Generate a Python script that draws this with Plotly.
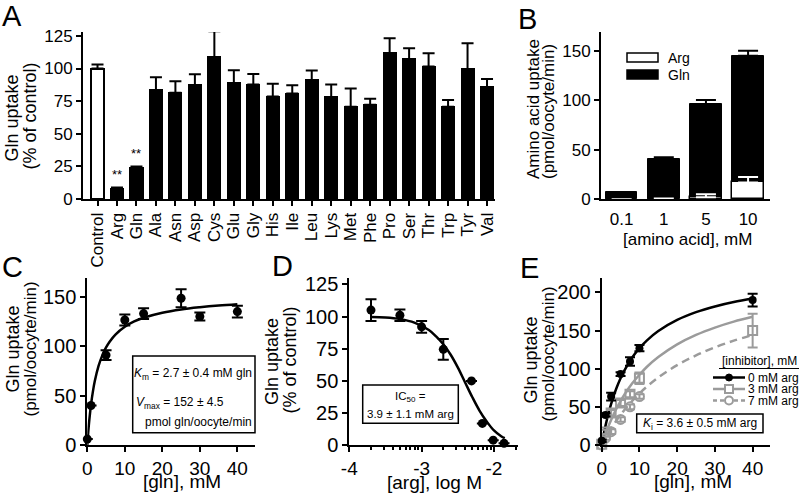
import numpy as np
import plotly.graph_objects as go

W, H = 802, 495
FONT = "Liberation Sans, Arial, Helvetica, sans-serif"
GRAY = "#9b9b9b"


def px(x):
    return x / W


def py(y):
    return 1 - y / H


# ---------------- Panel A data ----------------
a_labels = ["Control", "Arg", "Gln", "Ala", "Asn", "Asp", "Cys", "Glu", "Gly", "His", "Ile",
            "Leu", "Lys", "Met", "Phe", "Pro", "Ser", "Thr", "Trp", "Tyr", "Val"]
a_values = [100, 8, 24, 83.5, 81.5, 87, 108.5, 88.7, 87.7, 78.5, 80.8,
            91.3, 78.2, 70.8, 72.3, 111.7, 107, 101.5, 70.8, 99.7, 85.6]
a_err = [3, 0.8, 1, 9.8, 8.7, 8.6, 20, 10, 8.2, 9.9, 6.4,
         7.1, 9.5, 13.8, 4.6, 11.5, 8.5, 10.2, 5.1, 19.7, 6.4]
a_sig = ["", "**", "**", "", "", "", "", "", "", "", "",
         "", "", "", "", "", "", "", "", "", ""]
a_yticks = [0, 25, 50, 75, 100, 125]

# ---------------- Panel B data ----------------
b_conc = ["0.1", "1", "5", "10"]
b_gln = [7, 40.4, 96, 145]
b_gln_err = [0.5, 2, 4.3, 5]
b_arg = [0, 0.6, 2, 17]
b_arg_err = [0, 0.3, 3, 5.5]
b_yticks = [0, 50, 100, 150]

# ---------------- Panel C data ----------------
c_x = [0, 1, 5, 10, 15, 25, 30, 40]
c_y = [6, 40, 91, 126.5, 133, 148.5, 130, 135]
c_err = [0, 0, 5, 5.5, 5.5, 9, 4, 6]
c_fit_x = [0, 0.25, 0.5, 1, 1.5, 2, 3, 4, 5, 6, 7.5, 10, 12.5, 15, 20, 25, 30, 35, 40]
c_fit_y = [0, 12.9, 23.8, 41.1, 54.3, 64.7, 80.0, 90.7, 98.7, 104.8, 111.8, 119.7, 125.0,
           128.8, 133.9, 137.2, 139.4, 141.1, 142.4]
c_xticks = [0, 10, 20, 30, 40]
c_yticks = [0, 50, 100, 150]

# ---------------- Panel D data ----------------
d_x = [-3.70, -3.30, -3.00, -2.70, -2.31, -2.16, -2.01, -1.86]
d_y = [105, 101, 92, 74.5, 50, 17, 4, 1.5]
d_err = [8.5, 4.5, 4.5, 8, 0, 0, 0, 0]
d_fit_x = [-3.7, -3.5, -3.3, -3.1, -2.9, -2.8, -2.7, -2.6, -2.5, -2.4, -2.3, -2.2,
           -2.1, -2.0, -1.9, -1.85]
d_fit_y = [99.6, 99.2, 98.0, 95.3, 89.5, 84.6, 78.5, 70.5, 60.5, 49.0, 37.5, 27.0,
           18.5, 11.5, 7.0, 5.5]
d_xticks = [-4, -3, -2]
d_xticktext = ["-4", "-3", "-2"]
d_yticks = [0, 25, 50, 75, 100, 125]

# ---------------- Panel E data ----------------
e_x = [0, 1, 2.5, 5, 7.5, 10, 40]
e0_y = [5.5, 39.5, 63.5, 93, 109.5, 127, 190]
e0_err = [1.5, 2, 5, 2.5, 5.5, 4, 8.5]
e3_y = [1, 17, 42, 55, 66.5, 87.5, 150]
e3_err = [1, 3, 4, 4, 4, 7.5, 22]
e7_x = [0, 1, 2.5, 5, 7.5, 10]
e7_y = [0, 9, 17.5, 33.5, 50, 63.5]
e7_err = [1, 2, 3, 3, 3, 3]
e_fit_x = [0, 1, 2, 3, 4, 5, 6, 8, 10, 12, 15, 20, 25, 30, 35, 40]
e0_fit = [0, 25.1, 45.2, 61.8, 75.7, 87.5, 97.6, 114.1, 127.0, 137.3, 149.5, 164.0,
          174.2, 181.7, 187.5, 192.0]
e3_fit = [0, 14.4, 27.1, 38.4, 48.5, 57.6, 65.9, 80.2, 92.1, 102.6, 115.4, 132.0,
          144.4, 154.0, 161.8, 168.1]
e7_fit = [0, 9.2, 17.6, 25.5, 32.8, 39.6, 45.9, 57.4, 67.6, 76.6, 88.5, 104.7,
          117.5, 128.1, 136.8, 144.2]
e_xticks = [0, 10, 20, 30, 40]
e_yticks = [0, 50, 100, 150, 200]
e_legend = ["0 mM arg", "3 mM arg", "7 mM arg"]

fig = go.Figure()

# ---- A bars
fig.add_trace(go.Bar(
    x=a_labels, y=a_values, width=0.62,
    marker=dict(color=["white"] + ["black"] * (len(a_labels) - 1),
                line=dict(color="black", width=2)),
    error_y=dict(type="data", symmetric=False, array=a_err, arrayminus=[0] * len(a_err),
                 color="black", thickness=2, width=6),
    xaxis="x", yaxis="y"))

# ---- B bars
fig.add_trace(go.Bar(
    x=b_conc, y=b_gln, width=0.75,
    marker=dict(color="black", line=dict(color="black", width=1)),
    error_y=dict(type="data", symmetric=False, array=b_gln_err, arrayminus=[0] * 4,
                 color="black", thickness=2, width=10),
    xaxis="x2", yaxis="y2"))
fig.add_trace(go.Bar(
    x=b_conc, y=b_arg, width=0.75,
    marker=dict(color="white", line=dict(color="black", width=1.5)),
    error_y=dict(type="data", symmetric=False, array=b_arg_err, arrayminus=[0] * 4,
                 color="white", thickness=2, width=10),
    xaxis="x2", yaxis="y2"))

# ---- C
fig.add_trace(go.Scatter(x=c_fit_x, y=c_fit_y, mode="lines", line=dict(color="black", width=2.5, shape="spline"),
                         xaxis="x3", yaxis="y3", cliponaxis=False))
fig.add_trace(go.Scatter(x=c_x, y=c_y, mode="markers", marker=dict(color="black", size=9),
                         error_y=dict(type="data", array=c_err, color="black", thickness=2, width=5.5),
                         xaxis="x3", yaxis="y3", cliponaxis=False))

# ---- D
fig.add_trace(go.Scatter(x=d_fit_x, y=d_fit_y, mode="lines", line=dict(color="black", width=2.5, shape="spline"),
                         xaxis="x4", yaxis="y4", cliponaxis=False))
fig.add_trace(go.Scatter(x=d_x, y=d_y, mode="markers", marker=dict(color="black", size=9),
                         error_y=dict(type="data", array=d_err, color="black", thickness=2, width=5.5),
                         xaxis="x4", yaxis="y4", cliponaxis=False))

# ---- E
fig.add_trace(go.Scatter(x=e_fit_x, y=e7_fit, mode="lines",
                         line=dict(color=GRAY, width=2.5, dash="8px,5px", shape="spline"),
                         xaxis="x5", yaxis="y5", cliponaxis=False))
fig.add_trace(go.Scatter(x=e_fit_x, y=e3_fit, mode="lines", line=dict(color=GRAY, width=2.5, shape="spline"),
                         xaxis="x5", yaxis="y5", cliponaxis=False))
fig.add_trace(go.Scatter(x=e_fit_x, y=e0_fit, mode="lines", line=dict(color="black", width=2.5, shape="spline"),
                         xaxis="x5", yaxis="y5", cliponaxis=False))
fig.add_trace(go.Scatter(x=e7_x, y=e7_y, mode="markers",
                         marker=dict(symbol="circle-open", color=GRAY, size=9, line=dict(width=2)),
                         error_y=dict(type="data", array=e7_err, color=GRAY, thickness=2, width=5),
                         xaxis="x5", yaxis="y5", cliponaxis=False))
fig.add_trace(go.Scatter(x=e_x, y=e3_y, mode="markers",
                         marker=dict(symbol="square-open", color=GRAY, size=9, line=dict(width=2)),
                         error_y=dict(type="data", array=e3_err, color=GRAY, thickness=2, width=5),
                         xaxis="x5", yaxis="y5", cliponaxis=False))
fig.add_trace(go.Scatter(x=e_x, y=e0_y, mode="markers", marker=dict(color="black", size=8),
                         error_y=dict(type="data", array=e0_err, color="black", thickness=2, width=5),
                         xaxis="x5", yaxis="y5", cliponaxis=False))


def axstyle(size=17, **kw):
    d = dict(showline=True, linecolor="black", linewidth=2, ticks="outside", ticklen=5,
             tickwidth=2, tickcolor="black", showgrid=False, zeroline=False, automargin=False,
             tickfont=dict(family=FONT, size=size, color="black"), fixedrange=True)
    d.update(kw)
    return d


minor_d = [float(np.log10(k * 10.0 ** e)) for e in (-4, -3, -2) for k in range(2, 10)]
minor_d = [v for v in minor_d if v < -1.67]

fig.update_layout(
    width=W, height=H, margin=dict(l=0, r=0, t=0, b=0),
    paper_bgcolor="white", plot_bgcolor="white", showlegend=False,
    barmode="overlay", bargap=0,
    font=dict(family=FONT, color="black"),
    xaxis=axstyle(17, domain=[px(83), px(495)], anchor="y", type="category",
                  range=[-0.745, 20.41], tickangle=-90, tickmode="array", tickvals=a_labels,
                  ticktext=a_labels),
    yaxis=axstyle(17, domain=[py(199), py(32)], anchor="x", range=[0, 128], tickvals=a_yticks),
    xaxis2=axstyle(17, domain=[px(601), px(770)], anchor="y2", type="category",
                   range=[-0.49, 3.52], tickcolor="rgba(0,0,0,0)", ticklen=3),
    yaxis2=axstyle(17, domain=[py(199.3), py(32)], anchor="x2", range=[0, 169], tickvals=b_yticks),
    xaxis3=axstyle(19, domain=[px(87.3), px(255)], anchor="y3", range=[0, 44.7], tickvals=c_xticks),
    yaxis3=axstyle(20, domain=[py(445), py(278)], anchor="x3", range=[0, 169], tickvals=c_yticks),
    xaxis4=axstyle(19, domain=[px(349.3), px(518)], anchor="y4", range=[-4, -1.667],
                   tickvals=d_xticks, ticktext=d_xticktext,
                   minor=dict(tickvals=minor_d, ticks="outside", ticklen=3, tickwidth=1.5,
                              tickcolor="black", showgrid=False)),
    yaxis4=axstyle(20, domain=[py(445.3), py(278.3)], anchor="x4", range=[0, 129.7], tickvals=d_yticks),
    xaxis5=axstyle(19, domain=[px(601.7), px(770)], anchor="y5", range=[0, 44.6], tickvals=e_xticks),
    yaxis5=axstyle(20, domain=[py(445), py(278)], anchor="x5", range=[0, 219], tickvals=e_yticks),
)

annotations = []
shapes = []


def txt(x, y, s, size, xanchor="center", yanchor="middle", angle=0, family=FONT):
    annotations.append(dict(x=px(x), y=py(y), xref="paper", yref="paper", text=s, showarrow=False,
                            xanchor=xanchor, yanchor=yanchor, textangle=angle, borderpad=0,
                            font=dict(family=family, size=size, color="black")))


# panel letters
for letter, lx, ly in [("A", 1, 16), ("B", 517, 19), ("C", 1, 267), ("D", 271, 266), ("E", 519, 268)]:
    txt(lx, ly, letter, 29, xanchor="left")

# significance marks in A
for lab, v, s in zip(a_labels, a_values, a_sig):
    if s:
        annotations.append(dict(x=lab, y=v + 11, xref="x", yref="y", text=s, showarrow=False,
                                font=dict(family=FONT, size=13, color="black")))

# axis titles
txt(11.5, 118, "Gln uptake", 18, angle=-90)
txt(29.5, 116, "(% of control)", 18, angle=-90)
txt(534, 109, "Amino acid uptake", 17, angle=-90)
txt(548, 112, "(pmol/oocyte/min)", 17, angle=-90)
txt(687, 239, "[amino acid], mM", 17)
txt(12.5, 349, "Gln uptake", 18, angle=-90)
txt(29.5, 349, "(pmol/oocyte/min)", 17, angle=-90)
txt(182, 481, "[gln], mM", 19)
txt(272, 362, "Gln uptake", 18, angle=-90)
txt(289.5, 360, "(% of control)", 18, angle=-90)
txt(434, 482, "[arg], log M", 19)
txt(530.5, 360, "Gln uptake", 18, angle=-90)
txt(547.5, 354, "(pmol/oocyte/min)", 17, angle=-90)
txt(693, 481, "[gln], mM", 19)

# B legend
shapes.append(dict(type="rect", xref="paper", yref="paper", x0=px(627), x1=px(658), y0=py(62), y1=py(53),
                   fillcolor="white", line=dict(color="black", width=1.5)))
shapes.append(dict(type="rect", xref="paper", yref="paper", x0=px(627), x1=px(658), y0=py(79), y1=py(70),
                   fillcolor="black", line=dict(color="black", width=1.5)))
txt(667, 58, "Arg", 14, xanchor="left")
txt(667, 75, "Gln", 14, xanchor="left")

# C box
shapes.append(dict(type="rect", xref="paper", yref="paper", x0=px(132.7), x1=px(255), y0=py(432.7), y1=py(356),
                   fillcolor="rgba(0,0,0,0)", line=dict(color="black", width=1.5)))
txt(253, 374, "<i>K</i><sub>m</sub> = 2.7 ± 0.4 mM gln", 12, xanchor="right")
txt(135, 403, "<i>V</i><sub>max</sub> = 152 ± 4.5", 12, xanchor="left")
txt(253, 421.5, "pmol gln/oocyte/min", 12, xanchor="right")

# D box
shapes.append(dict(type="rect", xref="paper", yref="paper", x0=px(362.7), x1=px(458.3), y0=py(423.3), y1=py(385),
                   fillcolor="rgba(0,0,0,0)", line=dict(color="black", width=1.5)))
txt(410.5, 397, "IC<sub>50</sub> =", 11.5)
txt(410.5, 413.5, "3.9 ± 1.1 mM arg", 11.5)

# E box
shapes.append(dict(type="rect", xref="paper", yref="paper", x0=px(636.7), x1=px(763), y0=py(432.7), y1=py(414),
                   fillcolor="rgba(0,0,0,0)", line=dict(color="black", width=1.5)))
txt(700, 423.5, "<i>K</i><sub>i</sub> = 3.6 ± 0.5 mM arg", 12)

# E legend
txt(759, 361, "[inhibitor], mM", 12)
shapes.append(dict(type="line", xref="paper", yref="paper", x0=px(719), x1=px(799), y0=py(368.5), y1=py(368.5),
                   line=dict(color="black", width=1)))
leg_y = [377.5, 389, 400.5]
leg_col = ["black", GRAY, GRAY]
leg_dash = ["solid", "solid", "4px,3px"]
for i, (lab, yy) in enumerate(zip(e_legend, leg_y)):
    shapes.append(dict(type="line", xref="paper", yref="paper", x0=px(713), x1=px(745), y0=py(yy), y1=py(yy),
                       line=dict(color=leg_col[i], width=2.5, dash=leg_dash[i])))
    if i == 0:
        shapes.append(dict(type="circle", xref="paper", yref="paper", x0=px(725.5), x1=px(732.5),
                           y0=py(yy + 3.5), y1=py(yy - 3.5), fillcolor="black", line=dict(color="black", width=1)))
    elif i == 1:
        shapes.append(dict(type="rect", xref="paper", yref="paper", x0=px(725), x1=px(733),
                           y0=py(yy + 4), y1=py(yy - 4), fillcolor="white", line=dict(color=GRAY, width=2)))
    else:
        shapes.append(dict(type="circle", xref="paper", yref="paper", x0=px(725), x1=px(733),
                           y0=py(yy + 4), y1=py(yy - 4), fillcolor="white", line=dict(color=GRAY, width=2)))
    txt(747, yy, lab, 12, xanchor="left")

fig.update_layout(annotations=annotations, shapes=shapes)
fig.write_html(
    "out.html",
    config={"displayModeBar": False},
    post_script=("document.documentElement.style.margin='0px';"
                 "document.body.style.margin='0px';document.body.style.padding='0px';"
                 "document.documentElement.style.overflow='hidden';"))
